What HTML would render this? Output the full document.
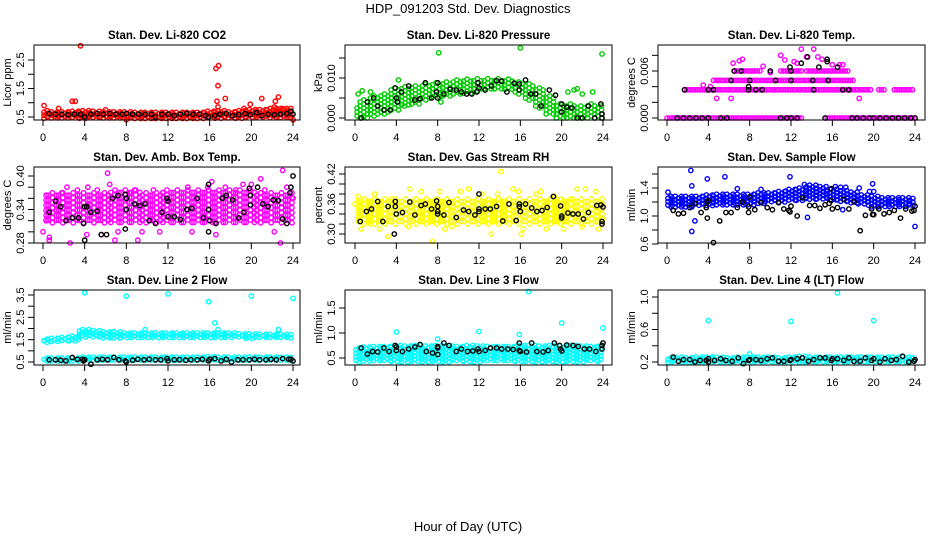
<!DOCTYPE html>
<html><head><meta charset="utf-8">
<style>
html,body{margin:0;padding:0;background:#fff;}
svg{display:block;}
text{font-family:"Liberation Sans",Arial,sans-serif;fill:#000;}
</style></head>
<body>
<svg id="chart" width="936" height="540" viewBox="0 0 936 540" xmlns="http://www.w3.org/2000/svg">
<text x="468" y="13" font-size="13" text-anchor="middle">HDP_091203  Std. Dev. Diagnostics</text>
<text x="468" y="531" font-size="13" text-anchor="middle">Hour of Day (UTC)</text>
</svg>
<script>
// ---- Data (hours 0..24 for bands) ----
const bandHours = [0,1,2,3,4,5,6,7,8,9,10,11,12,13,14,15,16,17,18,19,20,21,22,23,24];

// Panel 1: CO2
const co2BandLo = [0.45,0.45,0.45,0.45,0.45,0.45,0.45,0.45,0.45,0.45,0.45,0.45,0.45,0.45,0.45,0.45,0.45,0.45,0.45,0.45,0.45,0.45,0.45,0.45,0.45];
const co2BandHi = [0.72,0.68,0.68,0.7,0.72,0.7,0.68,0.68,0.68,0.66,0.66,0.66,0.66,0.66,0.66,0.66,0.7,0.72,0.68,0.72,0.76,0.76,0.8,0.8,0.8];
const co2ExtraX = [0.1,2.8,3.1,3.6,1.5,6,16.7,16.8,16.85,16.6,17.5,16.8,19.3,19.9,21,22.3,22.6,22.2,23,24,8];
const co2ExtraY = [0.9,1.05,1.05,3.0,0.8,0.75,1.05,1.6,2.3,2.2,1.15,0.85,0.8,0.95,1.15,1.05,1.2,0.85,0.8,0.4,0.4];
const co2BlackX = [0.6,1.2,1.8,2.4,3.0,3.6,4.0,4.6,5.2,5.8,6.4,7.0,7.6,8.0,8.6,9.2,9.8,10.4,10.8,11.4,12.0,12.6,13.2,13.8,14.4,15.0,15.6,15.9,16.5,17.0,17.6,18.2,18.8,19.4,19.9,20.5,21.0,21.6,22.2,22.8,23.4,23.8,24.0];
const co2BlackY = [0.62,0.6,0.6,0.58,0.6,0.6,0.5,0.6,0.62,0.6,0.62,0.6,0.6,0.62,0.6,0.6,0.6,0.6,0.5,0.6,0.6,0.55,0.6,0.62,0.6,0.6,0.55,0.5,0.55,0.6,0.62,0.55,0.58,0.62,0.58,0.65,0.55,0.6,0.58,0.6,0.62,0.7,0.6];

// Panel 2: Pressure
const presBandLo = [0,0,0.0005,0.001,0.002,0.003,0.0035,0.0045,0.005,0.0055,0.006,0.006,0.0065,0.007,0.007,0.007,0.006,0.0045,0.0025,0.001,0,0,0,0,0];
const presBandHi = [0.003,0.0045,0.0055,0.006,0.0075,0.0078,0.008,0.0085,0.0088,0.009,0.0095,0.0097,0.0098,0.0098,0.0098,0.0097,0.009,0.0085,0.0075,0.0055,0.0035,0.0035,0.003,0.0035,0.003];
const presExtraX = [0.3,0.7,1.5,4.2,8.1,16,23.9,20.6,21.2,21.5,22,23,0.8,4.8,8.3];
const presExtraY = [0.006,0.0068,0.0065,0.0095,0.0163,0.0175,0.016,0.0065,0.007,0.0073,0.006,0.0065,0.0002,0.003,0.004];
const presBlackX = [0.6,1.2,1.8,2.2,2.8,3.4,3.9,4.0,4.1,4.5,5.2,5.8,6.3,6.8,7.4,7.9,8.0,8.0,8.6,9.2,9.8,10.3,10.8,11.3,11.8,11.9,12.0,12.6,13.2,13.7,14.2,14.7,15.4,15.9,15.9,16.5,17.0,17.5,18.0,18.8,19.4,20.0,20.0,20.5,21.0,21.5,22.0,22.6,23.2,23.8,23.9,23.9];
const presBlackY = [0,0.004,0.005,0.003,0.002,0.002,0.0075,0.005,0.004,0.0065,0.008,0.0045,0.0048,0.0088,0.005,0.0065,0.0088,0.005,0.006,0.0072,0.007,0.0065,0.006,0.006,0.0065,0.0088,0.0075,0.007,0.008,0.0093,0.0092,0.0065,0.0087,0.0085,0.007,0.0095,0.006,0.006,0.003,0.007,0.0057,0.0035,0.0015,0.0027,0.0025,0,0,0.003,0,0.0035,0,0.001];

// Panel 3: Li-820 Temp (quantized runs)
const tempRunStart = [0,15.5,1.7,20.5,22,4.5,6.5,11,13.5];
const tempRunEnd   = [13,24,19.7,21,23.8,18,9,13,17.5];
const tempRunLevel = [0,0,0.0036,0.0036,0.0036,0.0048,0.006,0.006,0.006];
const tempExtraX = [7,7.3,6.4,11,13,14.2,13.5,14.6,15,12.3,16,17,4.8,6.2,18.6,4.2,3.5,9.3,10,16.7,11.4,12.6];
const tempExtraY = [0.0073,0.0075,0.007,0.008,0.0088,0.0088,0.0078,0.0078,0.0075,0.0072,0.0068,0.0068,0.0025,0.0025,0.0025,0.004,0.0042,0.0066,0.0058,0.0068,0.0074,0.007];
const tempBlackX = [1.0,1.6,2.2,2.8,3.4,4.0,5.2,5.8,11,11.6,12,12.6,15.3,17.9,18.4,19,19.6,20,20.6,21.2,21.8,22.4,23,23.6,24,1.7,4,4.5,7.9,8.6,9.2,17,17.6,6.2,6.5,7.2,8,7.9,10,10.5,12,11.9,12,13,13.6,14.1,14.2,14.7,15.5,15.5,15.6,16.5];
const tempBlackY = [0,0,0,0,0,0,0,0,0,0,0,0,0,0,0,0,0,0,0,0,0,0,0,0,0,0.0036,0.0036,0.0036,0.0036,0.0036,0.0036,0.0036,0.0036,0.0048,0.006,0.006,0.0048,0.004,0.006,0.0048,0.0048,0.0065,0.006,0.007,0.0078,0.0048,0.0036,0.0065,0.0072,0.0075,0.0048,0.0065];

// Panel 4: Amb Box Temp
const ambBandLo = [0.315,0.315,0.315,0.315,0.315,0.315,0.315,0.315,0.315,0.315,0.315,0.315,0.315,0.315,0.315,0.315,0.315,0.315,0.315,0.315,0.315,0.315,0.315,0.315,0.315];
const ambBandHi = [0.37,0.37,0.37,0.37,0.37,0.37,0.37,0.375,0.375,0.375,0.37,0.37,0.375,0.375,0.375,0.375,0.375,0.375,0.375,0.375,0.375,0.37,0.37,0.37,0.37];
const ambExtraX = [0,0.3,0.6,0.6,1.8,2.3,2.6,3.3,4.3,4.2,5.2,5.6,6.2,6.4,6.9,7.2,8.4,8.8,9.1,9.5,10.6,11.2,11.5,13.9,14.3,15.8,16.2,16.6,17.5,18.5,19.2,20.0,20.9,21.3,22.2,22.8,23.0,23.4,24];
const ambExtraY = [0.30,0.32,0.29,0.285,0.37,0.38,0.28,0.375,0.38,0.295,0.375,0.295,0.405,0.385,0.285,0.30,0.37,0.375,0.285,0.30,0.375,0.30,0.37,0.38,0.30,0.38,0.39,0.295,0.38,0.375,0.385,0.385,0.395,0.375,0.30,0.28,0.41,0.38,0.36];
const ambBlackX = [0.6,1.2,1.7,2.2,2.8,3.4,3.9,4.0,4.0,4.2,4.6,5.2,5.6,6.1,6.7,7.2,7.9,8.0,8.0,7.9,8.8,9.3,9.8,10.2,10.8,11.4,11.9,12.0,12.0,12.6,13.2,13.8,14.3,14.8,15.4,15.9,15.9,16.0,15.9,16.6,17.2,17.6,18.2,18.8,19.3,19.8,19.9,19.9,20.6,21.1,21.6,22.1,22.6,23.0,23.4,23.7,23.8,24.0];
const ambBlackY = [0.335,0.355,0.345,0.32,0.325,0.325,0.315,0.285,0.345,0.345,0.335,0.337,0.295,0.295,0.36,0.365,0.367,0.36,0.34,0.305,0.35,0.347,0.35,0.32,0.315,0.335,0.36,0.355,0.327,0.327,0.322,0.34,0.342,0.36,0.325,0.385,0.34,0.32,0.30,0.315,0.36,0.365,0.357,0.325,0.335,0.378,0.365,0.348,0.38,0.35,0.345,0.357,0.356,0.323,0.315,0.37,0.38,0.40];

// Panel 5: Gas Stream RH
const rhBandLo = [0.32,0.32,0.32,0.32,0.32,0.32,0.32,0.32,0.32,0.32,0.32,0.32,0.32,0.32,0.32,0.32,0.32,0.32,0.32,0.32,0.32,0.32,0.32,0.32,0.32];
const rhBandHi = [0.37,0.37,0.37,0.37,0.37,0.37,0.37,0.37,0.37,0.37,0.37,0.37,0.37,0.37,0.37,0.37,0.37,0.37,0.37,0.37,0.37,0.37,0.37,0.37,0.37];
const rhExtraX = [0,0.3,0.6,1.5,1.9,2.4,3.2,3.5,5.3,5.2,6.4,7.5,8.2,8.7,9.4,10.2,11.0,12.3,13.2,13.8,14.1,15.3,15.8,16.1,16.3,17.5,18.0,18.5,19.3,20.2,21.0,21.5,22.0,22.3,23.3,23.6,24];
const rhExtraY = [0.36,0.375,0.31,0.32,0.38,0.31,0.295,0.37,0.39,0.315,0.385,0.285,0.385,0.31,0.315,0.385,0.39,0.38,0.30,0.38,0.425,0.39,0.385,0.30,0.31,0.38,0.385,0.31,0.375,0.31,0.37,0.39,0.315,0.39,0.385,0.31,0.33];
const rhBlackX = [0.5,1.1,1.6,2.2,2.7,3.2,3.9,3.9,3.8,4.0,4.6,5.3,5.8,6.4,6.8,7.4,7.9,8.0,8.0,8.0,8.6,9.1,9.8,10.5,11.0,11.6,12.0,12.0,12.0,12.6,13.1,13.7,14.3,14.9,15.6,15.9,15.9,16.0,16.5,17.1,17.6,18.1,18.6,19.2,19.9,20.0,20.0,20.6,21.1,21.6,22.1,22.6,23.4,23.8,23.9,23.9,24];
const rhBlackY = [0.325,0.345,0.35,0.365,0.325,0.355,0.365,0.355,0.30,0.34,0.343,0.364,0.338,0.357,0.36,0.35,0.366,0.355,0.345,0.34,0.338,0.363,0.333,0.348,0.345,0.338,0.38,0.35,0.345,0.35,0.35,0.355,0.326,0.36,0.327,0.36,0.355,0.345,0.36,0.352,0.345,0.347,0.353,0.375,0.356,0.336,0.332,0.342,0.34,0.34,0.33,0.343,0.357,0.358,0.325,0.32,0.354];

// Panel 6: Sample Flow
const sfBandLo = [1.13,1.13,1.13,1.14,1.15,1.16,1.16,1.16,1.16,1.18,1.19,1.19,1.21,1.21,1.23,1.23,1.21,1.19,1.18,1.16,1.13,1.13,1.13,1.13,1.13];
const sfBandHi = [1.28,1.28,1.28,1.28,1.3,1.31,1.31,1.31,1.31,1.33,1.33,1.35,1.38,1.4,1.44,1.42,1.38,1.36,1.34,1.3,1.28,1.26,1.26,1.26,1.25];
const sfExtraX = [0.1,2.3,2.4,2.4,2.7,3.9,5.6,6.8,9.1,11.9,13.3,13.6,16.3,16.8,17.3,17,18.6,19.9,20,19.6,24];
const sfExtraY = [1.34,1.65,0.78,1.43,0.93,1.53,1.56,1.39,1.38,1.56,1.45,0.98,1.42,1.41,1.41,1.09,1.4,1.46,1.35,1.35,0.85];
const sfBlackX = [0.6,1.1,1.6,2.2,2.7,3.3,3.8,3.9,3.9,4.0,4.5,5.1,5.7,6.2,6.8,7.3,7.9,7.9,8.0,8.5,9.1,9.7,10.2,10.8,11.3,11.8,11.9,12.0,12.6,13.1,13.8,14.3,14.8,15.3,15.7,15.9,15.9,16.0,16.5,17.1,17.6,18.1,18.7,19.2,19.8,19.9,20.0,20.5,21.0,21.5,22.0,22.6,23.1,23.7,23.9,24.0];
const sfBlackY = [1.08,1.03,1.04,1.12,1.18,1.05,1.12,0.97,1.2,1.22,0.62,0.93,1.05,1.05,1.12,1.2,1.13,1.05,1.27,1.09,1.19,1.12,1.09,1.19,1.1,1.08,1.06,1.14,1.0,1.26,1.15,1.15,1.11,1.16,1.18,1.22,1.39,1.1,1.12,1.24,1.1,1.2,0.79,1.01,1.1,1.02,1.02,1.1,1.03,1.05,1.08,0.97,1.1,1.07,1.08,1.14];

// Panel 7: Line 2 Flow
const l2BandLo = [1.38,1.4,1.42,1.45,1.58,1.6,1.58,1.58,1.55,1.57,1.57,1.57,1.57,1.57,1.57,1.57,1.57,1.57,1.57,1.57,1.55,1.55,1.55,1.55,1.55];
const l2BandHi = [1.52,1.56,1.6,1.65,1.95,1.9,1.85,1.85,1.8,1.8,1.8,1.8,1.8,1.8,1.8,1.8,1.8,1.8,1.8,1.76,1.76,1.74,1.74,1.74,1.72];
const l2LowBandLo = [0.55,0.55,0.55,0.55,0.55,0.55,0.55,0.55,0.55,0.55,0.55,0.55,0.55,0.55,0.55,0.55,0.55,0.55,0.55,0.55,0.55,0.55,0.55,0.55,0.55];
const l2LowBandHi = [0.68,0.68,0.68,0.68,0.72,0.72,0.72,0.72,0.72,0.72,0.72,0.72,0.72,0.72,0.72,0.72,0.74,0.72,0.72,0.72,0.72,0.72,0.72,0.72,0.7];
const l2ExtraX = [4,8,12,15.9,16.5,16.8,20,24,9.8,22.6];
const l2ExtraY = [3.6,3.45,3.55,3.2,2.25,1.95,3.45,3.35,1.95,1.95];
const l2BlackX = [0.6,1.2,1.7,2.2,2.8,3.3,3.8,3.9,4.0,4.6,5.2,5.7,6.2,6.8,7.3,7.9,8.0,8.6,9.1,9.7,10.2,10.8,11.3,11.9,12.0,12.6,13.1,13.7,14.2,14.8,15.3,15.9,16.0,16.5,17.1,17.6,18.1,18.7,19.2,19.8,20.3,20.8,21.4,21.9,22.4,23.0,23.6,23.8,24.0];
const l2BlackY = [0.6,0.6,0.58,0.55,0.7,0.62,0.62,0.55,0.6,0.4,0.6,0.62,0.6,0.7,0.6,0.55,0.5,0.58,0.62,0.6,0.62,0.6,0.6,0.65,0.55,0.6,0.6,0.58,0.6,0.6,0.62,0.55,0.62,0.65,0.55,0.62,0.5,0.6,0.6,0.6,0.62,0.6,0.6,0.62,0.6,0.65,0.62,0.62,0.55];

// Panel 8: Line 3 Flow
const l3BandLo = [0.42,0.42,0.42,0.42,0.42,0.42,0.42,0.42,0.42,0.42,0.42,0.42,0.42,0.42,0.42,0.42,0.42,0.42,0.42,0.42,0.42,0.42,0.42,0.42,0.42];
const l3BandHi = [0.7,0.72,0.73,0.73,0.75,0.74,0.75,0.74,0.75,0.74,0.73,0.75,0.74,0.73,0.73,0.73,0.75,0.75,0.74,0.75,0.74,0.75,0.74,0.73,0.75];
const l3ExtraX = [4,8,12.0,15.9,16.8,20,24];
const l3ExtraY = [1.02,0.88,1.03,0.97,1.83,1.2,1.1];
const l3BlackX = [0.6,1.2,1.7,2.2,2.8,3.3,3.9,4.0,4.0,4.6,5.2,5.8,6.3,6.9,7.5,8.0,8.0,8.0,8.6,9.1,9.8,10.3,10.9,11.4,11.9,12.0,12.6,13.1,13.7,14.2,14.8,15.3,15.9,15.9,16.0,16.6,17.1,17.6,18.2,18.7,19.3,19.8,19.9,20.0,20.5,21.1,21.6,22.2,22.7,23.3,23.9,23.9,24];
const l3BlackY = [0.7,0.58,0.63,0.62,0.7,0.63,0.75,0.65,0.72,0.63,0.68,0.72,0.77,0.63,0.6,0.57,0.7,0.73,0.8,0.75,0.63,0.68,0.63,0.64,0.68,0.63,0.65,0.7,0.7,0.68,0.68,0.67,0.8,0.65,0.63,0.62,0.8,0.63,0.62,0.65,0.8,0.75,0.68,0.64,0.76,0.75,0.73,0.68,0.68,0.63,0.68,0.75,0.8];

// Panel 9: Line 4 (LT) Flow
const l4BandLo = [0.19,0.19,0.19,0.19,0.19,0.19,0.19,0.19,0.19,0.19,0.19,0.19,0.19,0.19,0.19,0.19,0.19,0.19,0.19,0.19,0.19,0.19,0.19,0.19,0.19];
const l4BandHi = [0.25,0.26,0.25,0.26,0.26,0.26,0.25,0.26,0.26,0.26,0.26,0.25,0.26,0.27,0.26,0.26,0.26,0.26,0.26,0.26,0.26,0.26,0.26,0.26,0.25];
const l4ExtraX = [4,12,16.5,20,8];
const l4ExtraY = [0.71,0.7,1.05,0.71,0.3];
const l4BlackX = [0.6,1.1,1.6,2.2,2.7,3.2,3.8,4.0,4.0,4.6,5.2,5.7,6.3,6.9,7.4,7.9,8.0,8.6,9.1,9.7,10.2,10.8,11.3,11.9,12.0,12.6,13.1,13.7,14.2,14.8,15.3,15.9,16.0,16.5,17.1,17.6,18.1,18.7,19.2,19.8,20.0,20.6,21.1,21.7,22.2,22.8,23.4,23.9,24.0];
const l4BlackY = [0.26,0.21,0.23,0.23,0.2,0.22,0.22,0.2,0.24,0.22,0.24,0.22,0.21,0.25,0.18,0.22,0.23,0.23,0.22,0.24,0.25,0.21,0.21,0.22,0.23,0.24,0.25,0.21,0.23,0.25,0.25,0.22,0.24,0.24,0.22,0.25,0.21,0.21,0.25,0.22,0.24,0.2,0.24,0.22,0.23,0.27,0.2,0.21,0.23];

// Tick label arrays
const hourTicks = [0,4,8,12,16,20,24];
const co2Ticks = [0.5,1.0,1.5,2.0,2.5], co2Labels = ["0.5","","1.5","","2.5"];
const presTicks = [0,0.005,0.010,0.015], presLabels = ["0.000","","0.010",""];
const tempTicks = [0,0.002,0.004,0.006,0.008], tempLabels = ["0.000","","","0.006",""];
const ambTicks = [0.28,0.30,0.32,0.34,0.36,0.38,0.40], ambLabels = ["0.28","","","0.34","","","0.40"];
const rhTicks = [0.30,0.32,0.34,0.36,0.38,0.40,0.42], rhLabels = ["0.30","","","0.36","","","0.42"];
const sfTicks = [0.6,0.8,1.0,1.2,1.4,1.6], sfLabels = ["0.6","","1.0","","1.4",""];
const l2Ticks = [0.5,1.0,1.5,2.0,2.5,3.0,3.5], l2Labels = ["0.5","","1.5","","2.5","","3.5"];
const l3Ticks = [0.5,1.0,1.5], l3Labels = ["0.5","1.0","1.5"];
const l4Ticks = [0.2,0.4,0.6,0.8,1.0], l4Labels = ["0.2","","0.6","","1.0"];

// ---- Layout ----
const NS = "http://www.w3.org/2000/svg";
const svg = document.getElementById('chart');
const cols = [{L:34,R:300,x0:43,x24:293},{L:345,R:612,x0:355,x24:603},{L:658,R:925,x0:667,x24:915}];
const rows = [{T:45,B:120},{T:167,B:243},{T:290,B:365}];

function el(tag, attrs, parent){
  const e = document.createElementNS(NS, tag);
  for (const k in attrs) e.setAttribute(k, attrs[k]);
  (parent||svg).appendChild(e);
  return e;
}

function panel(opt){
  const c = cols[opt.col], r = rows[opt.row];
  const g = el('g', {});
  
  
  const xs = h => c.x0 + h*(c.x24 - c.x0)/24;
  const ys = v => opt.py1 + (v - opt.v1)*(opt.py2 - opt.py1)/(opt.v2 - opt.v1);
  const col = opt.color;
  const marks = el('g', {fill:'none','stroke-width':'1.4'}, g);
  
  
  const clip = (x,y)=> y>=r.T-3 && y<=r.B+3;
  function pt(x,y,color){
    if(!clip(x,y)) return;
    const p = el('circle',{cx:x.toFixed(1),cy:y.toFixed(1),r:'2.2',stroke:color}, marks);
    
    
  }
  const stepH = opt.stepH || 0.3, stepY = opt.stepY || 3.5;
  // bands (rendering grid of rings between lower/upper band edges)
  (opt.bands||[]).forEach(([lo,hi])=>{
    bandHours.forEach((h,i)=>{
      let k = 0;
      for(let dh=-0.5; dh<0.5; dh+=stepH){
        const hh = h+dh; k++;
        if(hh<0||hh>24) continue;
        const x = xs(hh), y1 = ys(lo[i]), y2 = ys(hi[i]);
        const off = (k%2) ? stepY/2 : 0;
        for(let y=Math.min(y1,y2)+off; y<=Math.max(y1,y2)+0.1; y+=stepY) pt(x,y,col);
      }
    });
  });
  // runs
  if(opt.runs){
    const [s,e,lv] = opt.runs;
    s.forEach((st,i)=>{ for(let h=st; h<=e[i]; h+=0.25) pt(xs(h), ys(lv[i]), col); });
  }
  opt.ex[0].forEach((h,i)=>pt(xs(h), ys(opt.ex[1][i]), col));
  opt.bk[0].forEach((h,i)=>pt(xs(h), ys(opt.bk[1][i]), '#000'));
  // box
  const box = el('rect',{x:c.L,y:r.T,width:c.R-c.L,height:r.B-r.T,fill:'none',stroke:'#000','stroke-width':'1'}, g);
  
  
  // title
  const t = el('text',{x:(c.L+c.R)/2,y:r.T-6,'font-size':'11.5','font-weight':'bold','text-anchor':'middle'}, g);
  t.textContent = opt.title;
  
  
  // x axis
  const xa = el('g',{}, g);
  
  
  el('line',{x1:xs(0),x2:xs(24),y1:r.B,y2:r.B,stroke:'#000'}, xa);
  hourTicks.forEach(h=>{
    el('line',{x1:xs(h),x2:xs(h),y1:r.B,y2:r.B+6,stroke:'#000'}, xa);
    const tl = el('text',{x:xs(h),y:r.B+21,'font-size':'11','text-anchor':'middle'}, xa);
    tl.textContent = String(h);
    
    
  });
  // y axis
  const ya = el('g',{}, g);
  
  
  const tk = opt.ticks, lb = opt.labels;
  el('line',{x1:c.L,x2:c.L,y1:ys(tk[0]),y2:ys(tk[tk.length-1]),stroke:'#000'}, ya);
  tk.forEach((v,i)=>{
    const y = ys(v);
    el('line',{x1:c.L-6,x2:c.L,y1:y,y2:y,stroke:'#000'}, ya);
    if(lb[i]){
      const tl = el('text',{x:0,y:0,'font-size':'11','text-anchor':'middle',transform:`translate(${c.L-10},${y}) rotate(-90)`}, ya);
      tl.textContent = lb[i];
      
      
    }
  });
  const yt = el('text',{x:0,y:0,'font-size':'11','text-anchor':'middle',transform:`translate(${c.L-23},${(r.T+r.B)/2}) rotate(-90)`}, ya);
  yt.textContent = opt.ylab;
  
  
}

panel({name:'co2-panel',col:0,row:0,title:'Stan. Dev. Li-820 CO2',ylab:'Licor ppm',color:'#ff0000',v1:0.5,py1:117,v2:2.5,py2:60,ticks:co2Ticks,labels:co2Labels,stepH:0.3,stepY:3,bands:[[co2BandLo,co2BandHi]],ex:[co2ExtraX,co2ExtraY],bk:[co2BlackX,co2BlackY]});
panel({name:'pressure-panel',col:1,row:0,title:'Stan. Dev. Li-820 Pressure',ylab:'kPa',color:'#00cc00',v1:0,py1:118,v2:0.010,py2:78,ticks:presTicks,labels:presLabels,stepH:0.35,stepY:4,bands:[[presBandLo,presBandHi]],ex:[presExtraX,presExtraY],bk:[presBlackX,presBlackY]});
panel({name:'temp-panel',col:2,row:0,title:'Stan. Dev. Li-820 Temp.',ylab:'degrees C',color:'#ff00ff',v1:0,py1:118,v2:0.006,py2:71,ticks:tempTicks,labels:tempLabels,runs:[tempRunStart,tempRunEnd,tempRunLevel],ex:[tempExtraX,tempExtraY],bk:[tempBlackX,tempBlackY]});
panel({name:'amb-temp-panel',col:0,row:1,title:'Stan. Dev. Amb. Box Temp.',ylab:'degrees C',color:'#ff00ff',v1:0.40,py1:176,v2:0.28,py2:243,ticks:ambTicks,labels:ambLabels,stepH:0.4,stepY:5,bands:[[ambBandLo,ambBandHi]],ex:[ambExtraX,ambExtraY],bk:[ambBlackX,ambBlackY]});
panel({name:'rh-panel',col:1,row:1,title:'Stan. Dev. Gas Stream RH',ylab:'percent',color:'#ffff00',v1:0.42,py1:174,v2:0.30,py2:234,ticks:rhTicks,labels:rhLabels,stepH:0.4,stepY:5,bands:[[rhBandLo,rhBandHi]],ex:[rhExtraX,rhExtraY],bk:[rhBlackX,rhBlackY]});
panel({name:'sample-flow-panel',col:2,row:1,title:'Stan. Dev. Sample Flow',ylab:'ml/min',color:'#0000ff',v1:1.4,py1:188,v2:0.6,py2:244,ticks:sfTicks,labels:sfLabels,stepH:0.3,stepY:3.5,bands:[[sfBandLo,sfBandHi]],ex:[sfExtraX,sfExtraY],bk:[sfBlackX,sfBlackY]});
panel({name:'line2-panel',col:0,row:2,title:'Stan. Dev. Line 2 Flow',ylab:'ml/min',color:'#00ffff',v1:3.5,py1:295,v2:0.5,py2:362,ticks:l2Ticks,labels:l2Labels,stepH:0.3,stepY:3,bands:[[l2BandLo,l2BandHi],[l2LowBandLo,l2LowBandHi]],ex:[l2ExtraX,l2ExtraY],bk:[l2BlackX,l2BlackY]});
panel({name:'line3-panel',col:1,row:2,title:'Stan. Dev. Line 3 Flow',ylab:'ml/min',color:'#00ffff',v1:0.5,py1:358,v2:1.5,py2:308,ticks:l3Ticks,labels:l3Labels,stepH:0.3,stepY:3.5,bands:[[l3BandLo,l3BandHi]],ex:[l3ExtraX,l3ExtraY],bk:[l3BlackX,l3BlackY]});
panel({name:'line4-panel',col:2,row:2,title:'Stan. Dev. Line 4 (LT) Flow',ylab:'ml/min',color:'#00ffff',v1:1.0,py1:297,v2:0.2,py2:362,ticks:l4Ticks,labels:l4Labels,stepH:0.3,stepY:3,bands:[[l4BandLo,l4BandHi]],ex:[l4ExtraX,l4ExtraY],bk:[l4BlackX,l4BlackY]});
</script>
</body></html>
